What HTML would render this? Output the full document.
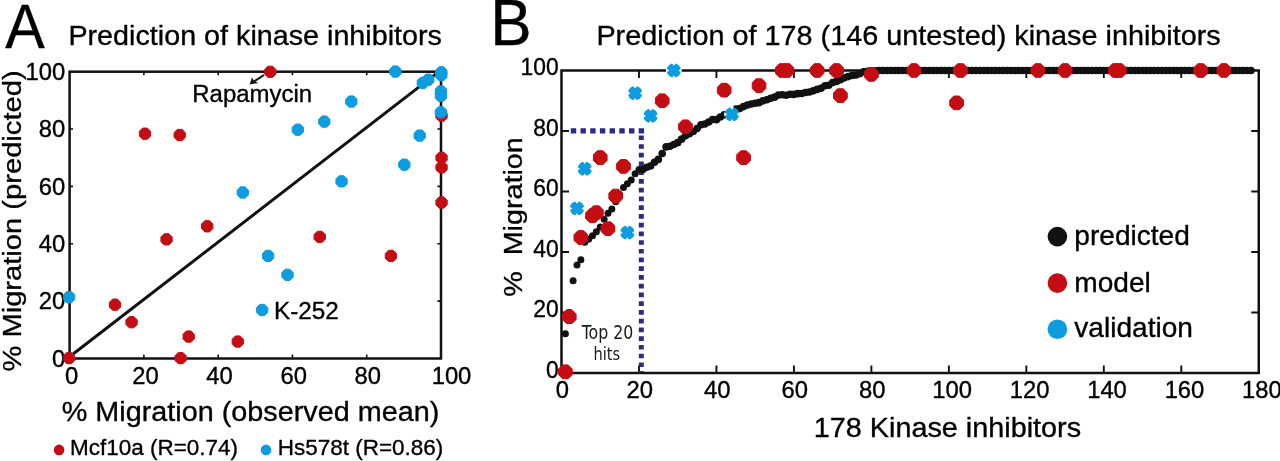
<!DOCTYPE html>
<html lang="en"><head><meta charset="utf-8"><title>Prediction of kinase inhibitors</title>
<style>html,body{margin:0;padding:0;background:#fff;overflow:hidden}svg{display:block}text{font-family:"Liberation Sans",Arial,sans-serif;fill:#000;stroke:#000;stroke-width:.35px;stroke-linejoin:round}.dv{font-family:"DejaVu Sans",Verdana,sans-serif;fill:#1a1a1a;stroke:none}</style></head><body>
<svg width="1280" height="461" viewBox="0 0 1280 461">
<rect width="1280" height="461" fill="#fff"/>
<g id="plotA">
<text transform="translate(5.20 48.00) scale(1.0000 1.0750)" font-size="59.20" text-anchor="start" xml:space="preserve">A</text>
<text transform="translate(68.40 45.00) scale(1.0000 0.9570)" font-size="28.73" text-anchor="start" xml:space="preserve">Prediction of kinase inhibitors</text>
<rect x="69.60" y="71.70" width="371.40" height="286.80" fill="none" stroke="#111" stroke-width="2.50"/>
<path d="M143.88 358.50v-4M143.88 71.70v3.6M69.60 301.14h3.4M441.00 301.14h-3.6" stroke="#111" stroke-width="1.6" fill="none"/>
<path d="M218.16 358.50v-4M218.16 71.70v3.6M69.60 243.78h3.4M441.00 243.78h-3.6" stroke="#111" stroke-width="1.6" fill="none"/>
<path d="M292.44 358.50v-4M292.44 71.70v3.6M69.60 186.42h3.4M441.00 186.42h-3.6" stroke="#111" stroke-width="1.6" fill="none"/>
<path d="M366.72 358.50v-4M366.72 71.70v3.6M69.60 129.06h3.4M441.00 129.06h-3.6" stroke="#111" stroke-width="1.6" fill="none"/>
<text transform="translate(65.20 366.70) scale(1.0000 1.0300)" font-size="23.80" text-anchor="end" xml:space="preserve">0</text>
<text transform="translate(65.20 309.34) scale(1.0000 1.0300)" font-size="23.80" text-anchor="end" xml:space="preserve">20</text>
<text transform="translate(65.20 251.98) scale(1.0000 1.0300)" font-size="23.80" text-anchor="end" xml:space="preserve">40</text>
<text transform="translate(65.20 194.62) scale(1.0000 1.0300)" font-size="23.80" text-anchor="end" xml:space="preserve">60</text>
<text transform="translate(65.20 137.26) scale(1.0000 1.0300)" font-size="23.80" text-anchor="end" xml:space="preserve">80</text>
<text transform="translate(65.20 79.90) scale(1.0000 1.0300)" font-size="23.80" text-anchor="end" xml:space="preserve">100</text>
<text transform="translate(71.60 383.60) scale(1.0000 1.0300)" font-size="23.80" text-anchor="middle" xml:space="preserve">0</text>
<text transform="translate(145.48 383.60) scale(1.0000 1.0300)" font-size="23.80" text-anchor="middle" xml:space="preserve">20</text>
<text transform="translate(219.46 383.60) scale(1.0000 1.0300)" font-size="23.80" text-anchor="middle" xml:space="preserve">40</text>
<text transform="translate(293.74 383.60) scale(1.0000 1.0300)" font-size="23.80" text-anchor="middle" xml:space="preserve">60</text>
<text transform="translate(367.72 383.60) scale(1.0000 1.0300)" font-size="23.80" text-anchor="middle" xml:space="preserve">80</text>
<text transform="translate(451.50 383.60) scale(1.0000 1.0300)" font-size="23.80" text-anchor="middle" xml:space="preserve">100</text>
<text transform="translate(250.50 421.30) scale(1.0000 0.9700)" font-size="28.80" text-anchor="middle" xml:space="preserve">% Migration (observed mean)</text>
<text transform="translate(21.20 221.00) rotate(-90) scale(1.0000 0.9000)" font-size="29.15" text-anchor="middle" xml:space="preserve">% Migration (predicted)</text>
<line x1="68.9" y1="357.3" x2="440.2" y2="70.6" stroke="#111" stroke-width="3.0"/>
<polygon points="275.94,74.13 272.63,77.44 267.97,77.44 264.66,74.13 264.66,69.47 267.97,66.16 272.63,66.16 275.94,69.47" fill="#c40d13" stroke="#c40d13" stroke-width="1" stroke-linejoin="round"/>
<polygon points="150.64,136.03 147.33,139.34 142.67,139.34 139.36,136.03 139.36,131.37 142.67,128.06 147.33,128.06 150.64,131.37" fill="#c40d13" stroke="#c40d13" stroke-width="1" stroke-linejoin="round"/>
<polygon points="185.34,137.33 182.03,140.64 177.37,140.64 174.06,137.33 174.06,132.67 177.37,129.36 182.03,129.36 185.34,132.67" fill="#c40d13" stroke="#c40d13" stroke-width="1" stroke-linejoin="round"/>
<polygon points="447.19,117.93 443.88,121.24 439.22,121.24 435.91,117.93 435.91,113.27 439.22,109.96 443.88,109.96 447.19,113.27" fill="#c40d13" stroke="#c40d13" stroke-width="1" stroke-linejoin="round"/>
<polygon points="447.19,160.13 443.88,163.44 439.22,163.44 435.91,160.13 435.91,155.47 439.22,152.16 443.88,152.16 447.19,155.47" fill="#c40d13" stroke="#c40d13" stroke-width="1" stroke-linejoin="round"/>
<polygon points="447.19,169.63 443.88,172.94 439.22,172.94 435.91,169.63 435.91,164.97 439.22,161.66 443.88,161.66 447.19,164.97" fill="#c40d13" stroke="#c40d13" stroke-width="1" stroke-linejoin="round"/>
<polygon points="447.19,204.83 443.88,208.14 439.22,208.14 435.91,204.83 435.91,200.17 439.22,196.86 443.88,196.86 447.19,200.17" fill="#c40d13" stroke="#c40d13" stroke-width="1" stroke-linejoin="round"/>
<polygon points="172.19,241.63 168.88,244.94 164.22,244.94 160.91,241.63 160.91,236.97 164.22,233.66 168.88,233.66 172.19,236.97" fill="#c40d13" stroke="#c40d13" stroke-width="1" stroke-linejoin="round"/>
<polygon points="212.84,228.63 209.53,231.94 204.87,231.94 201.56,228.63 201.56,223.97 204.87,220.66 209.53,220.66 212.84,223.97" fill="#c40d13" stroke="#c40d13" stroke-width="1" stroke-linejoin="round"/>
<polygon points="325.34,239.23 322.03,242.54 317.37,242.54 314.06,239.23 314.06,234.57 317.37,231.26 322.03,231.26 325.34,234.57" fill="#c40d13" stroke="#c40d13" stroke-width="1" stroke-linejoin="round"/>
<polygon points="396.54,258.23 393.23,261.54 388.57,261.54 385.26,258.23 385.26,253.57 388.57,250.26 393.23,250.26 396.54,253.57" fill="#c40d13" stroke="#c40d13" stroke-width="1" stroke-linejoin="round"/>
<polygon points="120.64,307.03 117.33,310.34 112.67,310.34 109.36,307.03 109.36,302.37 112.67,299.06 117.33,299.06 120.64,302.37" fill="#c40d13" stroke="#c40d13" stroke-width="1" stroke-linejoin="round"/>
<polygon points="137.19,324.53 133.88,327.84 129.22,327.84 125.91,324.53 125.91,319.87 129.22,316.56 133.88,316.56 137.19,319.87" fill="#c40d13" stroke="#c40d13" stroke-width="1" stroke-linejoin="round"/>
<polygon points="194.34,338.88 191.03,342.19 186.37,342.19 183.06,338.88 183.06,334.22 186.37,330.91 191.03,330.91 194.34,334.22" fill="#c40d13" stroke="#c40d13" stroke-width="1" stroke-linejoin="round"/>
<polygon points="243.44,343.88 240.13,347.19 235.47,347.19 232.16,343.88 232.16,339.22 235.47,335.91 240.13,335.91 243.44,339.22" fill="#c40d13" stroke="#c40d13" stroke-width="1" stroke-linejoin="round"/>
<polygon points="186.24,360.43 182.93,363.74 178.27,363.74 174.96,360.43 174.96,355.77 178.27,352.46 182.93,352.46 186.24,355.77" fill="#c40d13" stroke="#c40d13" stroke-width="1" stroke-linejoin="round"/>
<polygon points="74.69,360.43 71.38,363.74 66.72,363.74 63.41,360.43 63.41,355.77 66.72,352.46 71.38,352.46 74.69,355.77" fill="#c40d13" stroke="#c40d13" stroke-width="1" stroke-linejoin="round"/>
<polygon points="400.94,73.88 397.63,77.19 392.97,77.19 389.66,73.88 389.66,69.22 392.97,65.91 397.63,65.91 400.94,69.22" fill="#0e9ce0" stroke="#0e9ce0" stroke-width="1" stroke-linejoin="round"/>
<polygon points="446.94,74.63 443.63,77.94 438.97,77.94 435.66,74.63 435.66,69.97 438.97,66.66 443.63,66.66 446.94,69.97" fill="#0e9ce0" stroke="#0e9ce0" stroke-width="1" stroke-linejoin="round"/>
<polygon points="446.94,77.43 443.63,80.74 438.97,80.74 435.66,77.43 435.66,72.77 438.97,69.46 443.63,69.46 446.94,72.77" fill="#0e9ce0" stroke="#0e9ce0" stroke-width="1" stroke-linejoin="round"/>
<polygon points="428.44,85.13 425.13,88.44 420.47,88.44 417.16,85.13 417.16,80.47 420.47,77.16 425.13,77.16 428.44,80.47" fill="#0e9ce0" stroke="#0e9ce0" stroke-width="1" stroke-linejoin="round"/>
<polygon points="433.94,82.03 430.63,85.34 425.97,85.34 422.66,82.03 422.66,77.37 425.97,74.06 430.63,74.06 433.94,77.37" fill="#0e9ce0" stroke="#0e9ce0" stroke-width="1" stroke-linejoin="round"/>
<polygon points="446.54,93.63 443.23,96.94 438.57,96.94 435.26,93.63 435.26,88.97 438.57,85.66 443.23,85.66 446.54,88.97" fill="#0e9ce0" stroke="#0e9ce0" stroke-width="1" stroke-linejoin="round"/>
<polygon points="446.54,98.23 443.23,101.54 438.57,101.54 435.26,98.23 435.26,93.57 438.57,90.26 443.23,90.26 446.54,93.57" fill="#0e9ce0" stroke="#0e9ce0" stroke-width="1" stroke-linejoin="round"/>
<polygon points="446.54,114.63 443.23,117.94 438.57,117.94 435.26,114.63 435.26,109.97 438.57,106.66 443.23,106.66 446.54,109.97" fill="#0e9ce0" stroke="#0e9ce0" stroke-width="1" stroke-linejoin="round"/>
<polygon points="356.94,103.88 353.63,107.19 348.97,107.19 345.66,103.88 345.66,99.22 348.97,95.91 353.63,95.91 356.94,99.22" fill="#0e9ce0" stroke="#0e9ce0" stroke-width="1" stroke-linejoin="round"/>
<polygon points="329.94,123.88 326.63,127.19 321.97,127.19 318.66,123.88 318.66,119.22 321.97,115.91 326.63,115.91 329.94,119.22" fill="#0e9ce0" stroke="#0e9ce0" stroke-width="1" stroke-linejoin="round"/>
<polygon points="303.44,132.03 300.13,135.34 295.47,135.34 292.16,132.03 292.16,127.37 295.47,124.06 300.13,124.06 303.44,127.37" fill="#0e9ce0" stroke="#0e9ce0" stroke-width="1" stroke-linejoin="round"/>
<polygon points="425.34,137.93 422.03,141.24 417.37,141.24 414.06,137.93 414.06,133.27 417.37,129.96 422.03,129.96 425.34,133.27" fill="#0e9ce0" stroke="#0e9ce0" stroke-width="1" stroke-linejoin="round"/>
<polygon points="409.94,167.03 406.63,170.34 401.97,170.34 398.66,167.03 398.66,162.37 401.97,159.06 406.63,159.06 409.94,162.37" fill="#0e9ce0" stroke="#0e9ce0" stroke-width="1" stroke-linejoin="round"/>
<polygon points="248.44,194.83 245.13,198.14 240.47,198.14 237.16,194.83 237.16,190.17 240.47,186.86 245.13,186.86 248.44,190.17" fill="#0e9ce0" stroke="#0e9ce0" stroke-width="1" stroke-linejoin="round"/>
<polygon points="347.19,183.63 343.88,186.94 339.22,186.94 335.91,183.63 335.91,178.97 339.22,175.66 343.88,175.66 347.19,178.97" fill="#0e9ce0" stroke="#0e9ce0" stroke-width="1" stroke-linejoin="round"/>
<polygon points="273.74,258.23 270.43,261.54 265.77,261.54 262.46,258.23 262.46,253.57 265.77,250.26 270.43,250.26 273.74,253.57" fill="#0e9ce0" stroke="#0e9ce0" stroke-width="1" stroke-linejoin="round"/>
<polygon points="293.14,277.13 289.83,280.44 285.17,280.44 281.86,277.13 281.86,272.47 285.17,269.16 289.83,269.16 293.14,272.47" fill="#0e9ce0" stroke="#0e9ce0" stroke-width="1" stroke-linejoin="round"/>
<polygon points="74.69,299.53 71.38,302.84 66.72,302.84 63.41,299.53 63.41,294.87 66.72,291.56 71.38,291.56 74.69,294.87" fill="#0e9ce0" stroke="#0e9ce0" stroke-width="1" stroke-linejoin="round"/>
<polygon points="267.84,312.33 264.53,315.64 259.87,315.64 256.56,312.33 256.56,307.67 259.87,304.36 264.53,304.36 267.84,307.67" fill="#0e9ce0" stroke="#0e9ce0" stroke-width="1" stroke-linejoin="round"/>
<path d="M264 75 L253 82.2" stroke="#111" stroke-width="2" fill="none"/>
<polygon points="249.6,84.5 252.0,77.6 254.2,81.3 258.6,82.9" fill="#111"/>
<text transform="translate(192.30 101.50) scale(1.0000 0.9600)" font-size="23.97" text-anchor="start" xml:space="preserve">Rapamycin</text>
<text transform="translate(274.00 318.90) scale(1.0000 0.9500)" font-size="24.30" text-anchor="start" xml:space="preserve">K-252</text>
<circle cx="59.10" cy="449.90" r="5.30" fill="#c40d13"/>
<text transform="translate(70.00 454.80) scale(1.0000 0.9550)" font-size="22.50" text-anchor="start" xml:space="preserve">Mcf10a (R=0.74)</text>
<circle cx="266.00" cy="449.90" r="5.30" fill="#0e9ce0"/>
<text transform="translate(277.70 454.80) scale(1.0000 0.9550)" font-size="22.50" text-anchor="start" xml:space="preserve">Hs578t (R=0.86)</text>
</g>
<g id="plotB">
<text transform="translate(490.30 44.80) scale(1.0000 1.0400)" font-size="62.00" text-anchor="start" xml:space="preserve">B</text>
<text transform="translate(596.40 44.50) scale(1.0000 0.9570)" font-size="28.82" text-anchor="start" xml:space="preserve">Prediction of 178 (146 untested) kinase inhibitors</text>
<path d="M561.50 70.50H1258.75V373.00H561.50Z" fill="none" stroke="#111" stroke-width="2.50"/>
<path d="M638.97 373.00v-7.5M638.97 70.50v7.5" stroke="#111" stroke-width="1.9" fill="none"/>
<path d="M716.44 373.00v-7.5M716.44 70.50v7.5" stroke="#111" stroke-width="1.9" fill="none"/>
<path d="M793.92 373.00v-7.5M793.92 70.50v7.5" stroke="#111" stroke-width="1.9" fill="none"/>
<path d="M871.39 373.00v-7.5M871.39 70.50v7.5" stroke="#111" stroke-width="1.9" fill="none"/>
<path d="M948.86 373.00v-7.5M948.86 70.50v7.5" stroke="#111" stroke-width="1.9" fill="none"/>
<path d="M1026.33 373.00v-7.5M1026.33 70.50v7.5" stroke="#111" stroke-width="1.9" fill="none"/>
<path d="M1103.81 373.00v-7.5M1103.81 70.50v7.5" stroke="#111" stroke-width="1.9" fill="none"/>
<path d="M1181.28 373.00v-7.5M1181.28 70.50v7.5" stroke="#111" stroke-width="1.9" fill="none"/>
<path d="M561.50 312.50h7.5M1258.75 312.50h-7.5" stroke="#111" stroke-width="1.9" fill="none"/>
<path d="M561.50 252.00h7.5M1258.75 252.00h-7.5" stroke="#111" stroke-width="1.9" fill="none"/>
<path d="M561.50 191.50h7.5M1258.75 191.50h-7.5" stroke="#111" stroke-width="1.9" fill="none"/>
<path d="M561.50 131.00h7.5M1258.75 131.00h-7.5" stroke="#111" stroke-width="1.9" fill="none"/>
<text transform="translate(558.60 377.60) scale(1.0000 1.0400)" font-size="22.80" text-anchor="end" xml:space="preserve">0</text>
<text transform="translate(558.60 317.10) scale(1.0000 1.0400)" font-size="22.80" text-anchor="end" xml:space="preserve">20</text>
<text transform="translate(558.60 256.60) scale(1.0000 1.0400)" font-size="22.80" text-anchor="end" xml:space="preserve">40</text>
<text transform="translate(558.60 196.10) scale(1.0000 1.0400)" font-size="22.80" text-anchor="end" xml:space="preserve">60</text>
<text transform="translate(558.60 135.60) scale(1.0000 1.0400)" font-size="22.80" text-anchor="end" xml:space="preserve">80</text>
<text transform="translate(558.60 75.10) scale(1.0000 1.0400)" font-size="22.80" text-anchor="end" xml:space="preserve">100</text>
<text transform="translate(562.30 397.60) scale(1.0000 1.0300)" font-size="23.80" text-anchor="middle" xml:space="preserve">0</text>
<text transform="translate(639.77 397.60) scale(1.0000 1.0300)" font-size="23.80" text-anchor="middle" xml:space="preserve">20</text>
<text transform="translate(717.24 397.60) scale(1.0000 1.0300)" font-size="23.80" text-anchor="middle" xml:space="preserve">40</text>
<text transform="translate(794.72 397.60) scale(1.0000 1.0300)" font-size="23.80" text-anchor="middle" xml:space="preserve">60</text>
<text transform="translate(872.19 397.60) scale(1.0000 1.0300)" font-size="23.80" text-anchor="middle" xml:space="preserve">80</text>
<text transform="translate(952.06 397.60) scale(1.0000 1.0300)" font-size="23.80" text-anchor="middle" xml:space="preserve">100</text>
<text transform="translate(1029.53 397.60) scale(1.0000 1.0300)" font-size="23.80" text-anchor="middle" xml:space="preserve">120</text>
<text transform="translate(1107.01 397.60) scale(1.0000 1.0300)" font-size="23.80" text-anchor="middle" xml:space="preserve">140</text>
<text transform="translate(1184.48 397.60) scale(1.0000 1.0300)" font-size="23.80" text-anchor="middle" xml:space="preserve">160</text>
<text transform="translate(1261.95 397.60) scale(1.0000 1.0300)" font-size="23.80" text-anchor="middle" xml:space="preserve">180</text>
<text transform="translate(947.40 437.00) scale(1.0000 0.9600)" font-size="28.80" text-anchor="middle" xml:space="preserve">178 Kinase inhibitors</text>
<text transform="translate(522.00 217.00) rotate(-90) scale(1.0000 0.9000)" font-size="28.70" text-anchor="middle" xml:space="preserve">%  Migration</text>
<path d="M570.8 130.9H644.2" stroke="#2c2a86" stroke-width="5.1" stroke-dasharray="5.4 4.3" fill="none"/>
<path d="M641.3 135.4V372.50" stroke="#2c2a86" stroke-width="5" stroke-dasharray="4.7 4.03" fill="none"/>
<circle cx="565.37" cy="333.68" r="3.50" fill="#111111"/>
<circle cx="569.25" cy="312.50" r="3.50" fill="#111111"/>
<circle cx="573.12" cy="280.74" r="3.50" fill="#111111"/>
<circle cx="576.99" cy="265.01" r="3.50" fill="#111111"/>
<circle cx="580.87" cy="259.87" r="3.50" fill="#111111"/>
<circle cx="584.74" cy="242.32" r="3.50" fill="#111111"/>
<circle cx="588.62" cy="239.29" r="3.50" fill="#111111"/>
<circle cx="592.49" cy="235.74" r="3.50" fill="#111111"/>
<circle cx="596.36" cy="231.83" r="3.50" fill="#111111"/>
<circle cx="600.24" cy="227.12" r="3.50" fill="#111111"/>
<circle cx="604.11" cy="219.18" r="3.50" fill="#111111"/>
<circle cx="607.98" cy="213.33" r="3.50" fill="#111111"/>
<circle cx="611.86" cy="208.88" r="3.50" fill="#111111"/>
<circle cx="615.73" cy="201.83" r="3.50" fill="#111111"/>
<circle cx="619.60" cy="194.48" r="3.50" fill="#111111"/>
<circle cx="623.48" cy="187.49" r="3.50" fill="#111111"/>
<circle cx="627.35" cy="183.71" r="3.50" fill="#111111"/>
<circle cx="631.23" cy="179.93" r="3.50" fill="#111111"/>
<circle cx="635.10" cy="173.68" r="3.50" fill="#111111"/>
<circle cx="638.97" cy="169.53" r="3.50" fill="#111111"/>
<circle cx="642.85" cy="169.48" r="3.80" fill="#111111"/>
<circle cx="646.72" cy="167.23" r="3.80" fill="#111111"/>
<circle cx="650.59" cy="165.98" r="3.80" fill="#111111"/>
<circle cx="654.47" cy="162.26" r="3.80" fill="#111111"/>
<circle cx="658.34" cy="159.42" r="3.80" fill="#111111"/>
<circle cx="662.21" cy="153.47" r="3.80" fill="#111111"/>
<circle cx="666.09" cy="146.90" r="3.80" fill="#111111"/>
<circle cx="669.96" cy="146.26" r="3.80" fill="#111111"/>
<circle cx="673.83" cy="144.48" r="3.80" fill="#111111"/>
<circle cx="677.71" cy="142.65" r="3.80" fill="#111111"/>
<circle cx="681.58" cy="139.14" r="3.80" fill="#111111"/>
<circle cx="685.46" cy="135.74" r="3.80" fill="#111111"/>
<circle cx="689.33" cy="133.73" r="3.80" fill="#111111"/>
<circle cx="693.20" cy="131.52" r="3.80" fill="#111111"/>
<circle cx="697.08" cy="128.44" r="3.80" fill="#111111"/>
<circle cx="700.95" cy="124.74" r="3.80" fill="#111111"/>
<circle cx="704.82" cy="123.94" r="3.80" fill="#111111"/>
<circle cx="708.70" cy="121.97" r="3.80" fill="#111111"/>
<circle cx="712.57" cy="119.55" r="3.80" fill="#111111"/>
<circle cx="716.44" cy="119.65" r="3.80" fill="#111111"/>
<circle cx="720.32" cy="117.07" r="3.80" fill="#111111"/>
<circle cx="724.19" cy="114.68" r="3.80" fill="#111111"/>
<circle cx="728.07" cy="114.10" r="3.80" fill="#111111"/>
<circle cx="731.94" cy="111.63" r="3.80" fill="#111111"/>
<circle cx="735.81" cy="109.08" r="3.80" fill="#111111"/>
<circle cx="739.69" cy="108.60" r="3.80" fill="#111111"/>
<circle cx="743.56" cy="106.61" r="3.80" fill="#111111"/>
<circle cx="747.43" cy="105.06" r="3.80" fill="#111111"/>
<circle cx="751.31" cy="104.07" r="3.80" fill="#111111"/>
<circle cx="755.18" cy="103.30" r="3.80" fill="#111111"/>
<circle cx="759.05" cy="102.65" r="3.80" fill="#111111"/>
<circle cx="762.93" cy="100.83" r="3.80" fill="#111111"/>
<circle cx="766.80" cy="99.75" r="3.80" fill="#111111"/>
<circle cx="770.67" cy="98.26" r="3.80" fill="#111111"/>
<circle cx="774.55" cy="97.17" r="3.80" fill="#111111"/>
<circle cx="778.42" cy="95.10" r="3.80" fill="#111111"/>
<circle cx="782.30" cy="94.80" r="3.80" fill="#111111"/>
<circle cx="786.17" cy="95.20" r="3.80" fill="#111111"/>
<circle cx="790.04" cy="94.31" r="3.80" fill="#111111"/>
<circle cx="793.92" cy="94.42" r="3.80" fill="#111111"/>
<circle cx="797.79" cy="93.67" r="3.80" fill="#111111"/>
<circle cx="801.66" cy="93.43" r="3.80" fill="#111111"/>
<circle cx="805.54" cy="92.45" r="3.80" fill="#111111"/>
<circle cx="809.41" cy="91.99" r="3.80" fill="#111111"/>
<circle cx="813.28" cy="90.86" r="3.80" fill="#111111"/>
<circle cx="817.16" cy="89.41" r="3.80" fill="#111111"/>
<circle cx="821.03" cy="88.32" r="3.80" fill="#111111"/>
<circle cx="824.91" cy="85.70" r="3.80" fill="#111111"/>
<circle cx="828.78" cy="85.30" r="3.80" fill="#111111"/>
<circle cx="832.65" cy="82.56" r="3.80" fill="#111111"/>
<circle cx="836.53" cy="81.42" r="3.80" fill="#111111"/>
<circle cx="840.40" cy="79.81" r="3.80" fill="#111111"/>
<circle cx="844.27" cy="77.86" r="3.80" fill="#111111"/>
<circle cx="848.15" cy="76.58" r="3.80" fill="#111111"/>
<circle cx="852.02" cy="75.51" r="3.80" fill="#111111"/>
<circle cx="855.89" cy="74.99" r="3.80" fill="#111111"/>
<circle cx="859.77" cy="73.65" r="3.80" fill="#111111"/>
<circle cx="863.64" cy="71.70" r="3.80" fill="#111111"/>
<circle cx="867.52" cy="71.21" r="3.80" fill="#111111"/>
<circle cx="871.39" cy="70.90" r="3.80" fill="#111111"/>
<circle cx="875.26" cy="70.70" r="3.80" fill="#111111"/>
<circle cx="879.14" cy="70.50" r="3.80" fill="#111111"/>
<circle cx="883.01" cy="70.50" r="3.80" fill="#111111"/>
<circle cx="886.88" cy="70.50" r="3.80" fill="#111111"/>
<circle cx="890.76" cy="70.50" r="3.80" fill="#111111"/>
<circle cx="894.63" cy="70.50" r="3.80" fill="#111111"/>
<circle cx="898.50" cy="70.50" r="3.80" fill="#111111"/>
<circle cx="902.38" cy="70.50" r="3.80" fill="#111111"/>
<circle cx="906.25" cy="70.50" r="3.80" fill="#111111"/>
<circle cx="910.12" cy="70.50" r="3.80" fill="#111111"/>
<circle cx="914.00" cy="70.50" r="3.80" fill="#111111"/>
<circle cx="917.87" cy="70.50" r="3.80" fill="#111111"/>
<circle cx="921.75" cy="70.50" r="3.80" fill="#111111"/>
<circle cx="925.62" cy="70.50" r="3.80" fill="#111111"/>
<circle cx="929.49" cy="70.50" r="3.80" fill="#111111"/>
<circle cx="933.37" cy="70.50" r="3.80" fill="#111111"/>
<circle cx="937.24" cy="70.50" r="3.80" fill="#111111"/>
<circle cx="941.11" cy="70.50" r="3.80" fill="#111111"/>
<circle cx="944.99" cy="70.50" r="3.80" fill="#111111"/>
<circle cx="948.86" cy="70.50" r="3.80" fill="#111111"/>
<circle cx="952.73" cy="70.50" r="3.80" fill="#111111"/>
<circle cx="956.61" cy="70.50" r="3.80" fill="#111111"/>
<circle cx="960.48" cy="70.50" r="3.80" fill="#111111"/>
<circle cx="964.36" cy="70.50" r="3.80" fill="#111111"/>
<circle cx="968.23" cy="70.50" r="3.80" fill="#111111"/>
<circle cx="972.10" cy="70.50" r="3.80" fill="#111111"/>
<circle cx="975.98" cy="70.50" r="3.80" fill="#111111"/>
<circle cx="979.85" cy="70.50" r="3.80" fill="#111111"/>
<circle cx="983.72" cy="70.50" r="3.80" fill="#111111"/>
<circle cx="987.60" cy="70.50" r="3.80" fill="#111111"/>
<circle cx="991.47" cy="70.50" r="3.80" fill="#111111"/>
<circle cx="995.34" cy="70.50" r="3.80" fill="#111111"/>
<circle cx="999.22" cy="70.50" r="3.80" fill="#111111"/>
<circle cx="1003.09" cy="70.50" r="3.80" fill="#111111"/>
<circle cx="1006.97" cy="70.50" r="3.80" fill="#111111"/>
<circle cx="1010.84" cy="70.50" r="3.80" fill="#111111"/>
<circle cx="1014.71" cy="70.50" r="3.80" fill="#111111"/>
<circle cx="1018.59" cy="70.50" r="3.80" fill="#111111"/>
<circle cx="1022.46" cy="70.50" r="3.80" fill="#111111"/>
<circle cx="1026.33" cy="70.50" r="3.80" fill="#111111"/>
<circle cx="1030.21" cy="70.50" r="3.80" fill="#111111"/>
<circle cx="1034.08" cy="70.50" r="3.80" fill="#111111"/>
<circle cx="1037.95" cy="70.50" r="3.80" fill="#111111"/>
<circle cx="1041.83" cy="70.50" r="3.80" fill="#111111"/>
<circle cx="1045.70" cy="70.50" r="3.80" fill="#111111"/>
<circle cx="1049.58" cy="70.50" r="3.80" fill="#111111"/>
<circle cx="1053.45" cy="70.50" r="3.80" fill="#111111"/>
<circle cx="1057.32" cy="70.50" r="3.80" fill="#111111"/>
<circle cx="1061.20" cy="70.50" r="3.80" fill="#111111"/>
<circle cx="1065.07" cy="70.50" r="3.80" fill="#111111"/>
<circle cx="1068.94" cy="70.50" r="3.80" fill="#111111"/>
<circle cx="1072.82" cy="70.50" r="3.80" fill="#111111"/>
<circle cx="1076.69" cy="70.50" r="3.80" fill="#111111"/>
<circle cx="1080.56" cy="70.50" r="3.80" fill="#111111"/>
<circle cx="1084.44" cy="70.50" r="3.80" fill="#111111"/>
<circle cx="1088.31" cy="70.50" r="3.80" fill="#111111"/>
<circle cx="1092.18" cy="70.50" r="3.80" fill="#111111"/>
<circle cx="1096.06" cy="70.50" r="3.80" fill="#111111"/>
<circle cx="1099.93" cy="70.50" r="3.80" fill="#111111"/>
<circle cx="1103.81" cy="70.50" r="3.80" fill="#111111"/>
<circle cx="1107.68" cy="70.50" r="3.80" fill="#111111"/>
<circle cx="1111.55" cy="70.50" r="3.80" fill="#111111"/>
<circle cx="1115.43" cy="70.50" r="3.80" fill="#111111"/>
<circle cx="1119.30" cy="70.50" r="3.80" fill="#111111"/>
<circle cx="1123.17" cy="70.50" r="3.80" fill="#111111"/>
<circle cx="1127.05" cy="70.50" r="3.80" fill="#111111"/>
<circle cx="1130.92" cy="70.50" r="3.80" fill="#111111"/>
<circle cx="1134.79" cy="70.50" r="3.80" fill="#111111"/>
<circle cx="1138.67" cy="70.50" r="3.80" fill="#111111"/>
<circle cx="1142.54" cy="70.50" r="3.80" fill="#111111"/>
<circle cx="1146.42" cy="70.50" r="3.80" fill="#111111"/>
<circle cx="1150.29" cy="70.50" r="3.80" fill="#111111"/>
<circle cx="1154.16" cy="70.50" r="3.80" fill="#111111"/>
<circle cx="1158.04" cy="70.50" r="3.80" fill="#111111"/>
<circle cx="1161.91" cy="70.50" r="3.80" fill="#111111"/>
<circle cx="1165.78" cy="70.50" r="3.80" fill="#111111"/>
<circle cx="1169.66" cy="70.50" r="3.80" fill="#111111"/>
<circle cx="1173.53" cy="70.50" r="3.80" fill="#111111"/>
<circle cx="1177.40" cy="70.50" r="3.80" fill="#111111"/>
<circle cx="1181.28" cy="70.50" r="3.80" fill="#111111"/>
<circle cx="1185.15" cy="70.50" r="3.80" fill="#111111"/>
<circle cx="1189.03" cy="70.50" r="3.80" fill="#111111"/>
<circle cx="1192.90" cy="70.50" r="3.80" fill="#111111"/>
<circle cx="1196.77" cy="70.50" r="3.80" fill="#111111"/>
<circle cx="1200.65" cy="70.50" r="3.80" fill="#111111"/>
<circle cx="1204.52" cy="70.50" r="3.80" fill="#111111"/>
<circle cx="1208.39" cy="70.50" r="3.80" fill="#111111"/>
<circle cx="1212.27" cy="70.50" r="3.80" fill="#111111"/>
<circle cx="1216.14" cy="70.50" r="3.80" fill="#111111"/>
<circle cx="1220.01" cy="70.50" r="3.80" fill="#111111"/>
<circle cx="1223.89" cy="70.50" r="3.80" fill="#111111"/>
<circle cx="1227.76" cy="70.50" r="3.80" fill="#111111"/>
<circle cx="1231.63" cy="70.50" r="3.80" fill="#111111"/>
<circle cx="1235.51" cy="70.50" r="3.80" fill="#111111"/>
<circle cx="1239.38" cy="70.50" r="3.80" fill="#111111"/>
<circle cx="1243.26" cy="70.50" r="3.80" fill="#111111"/>
<circle cx="1247.13" cy="70.50" r="3.80" fill="#111111"/>
<circle cx="1251.00" cy="70.50" r="3.80" fill="#111111"/>
<polygon points="789.13,73.33 785.13,77.34 779.46,77.34 775.46,73.33 775.46,67.67 779.46,63.66 785.13,63.66 789.13,67.67" fill="#c40d13" stroke="#c40d13" stroke-width="1" stroke-linejoin="round"/>
<polygon points="793.78,73.33 789.78,77.34 784.11,77.34 780.11,73.33 780.11,67.67 784.11,63.66 789.78,63.66 793.78,67.67" fill="#c40d13" stroke="#c40d13" stroke-width="1" stroke-linejoin="round"/>
<polygon points="824.00,73.33 819.99,77.34 814.33,77.34 810.32,73.33 810.32,67.67 814.33,63.66 819.99,63.66 824.00,67.67" fill="#c40d13" stroke="#c40d13" stroke-width="1" stroke-linejoin="round"/>
<polygon points="843.36,73.33 839.36,77.34 833.69,77.34 829.69,73.33 829.69,67.67 833.69,63.66 839.36,63.66 843.36,67.67" fill="#c40d13" stroke="#c40d13" stroke-width="1" stroke-linejoin="round"/>
<polygon points="878.23,77.26 874.22,81.27 868.56,81.27 864.55,77.26 864.55,71.60 868.56,67.60 874.22,67.60 878.23,71.60" fill="#c40d13" stroke="#c40d13" stroke-width="1" stroke-linejoin="round"/>
<polygon points="920.84,73.33 916.83,77.34 911.17,77.34 907.16,73.33 907.16,67.67 911.17,63.66 916.83,63.66 920.84,67.67" fill="#c40d13" stroke="#c40d13" stroke-width="1" stroke-linejoin="round"/>
<polygon points="847.24,98.44 843.23,102.44 837.57,102.44 833.56,98.44 833.56,92.78 837.57,88.77 843.23,88.77 847.24,92.78" fill="#c40d13" stroke="#c40d13" stroke-width="1" stroke-linejoin="round"/>
<polygon points="765.89,88.46 761.89,92.46 756.22,92.46 752.22,88.46 752.22,82.79 756.22,78.79 761.89,78.79 765.89,82.79" fill="#c40d13" stroke="#c40d13" stroke-width="1" stroke-linejoin="round"/>
<polygon points="731.03,92.99 727.02,97.00 721.36,97.00 717.35,92.99 717.35,87.33 721.36,83.33 727.02,83.33 731.03,87.33" fill="#c40d13" stroke="#c40d13" stroke-width="1" stroke-linejoin="round"/>
<polygon points="669.05,103.58 665.05,107.59 659.38,107.59 655.38,103.58 655.38,97.92 659.38,93.91 665.05,93.91 669.05,97.92" fill="#c40d13" stroke="#c40d13" stroke-width="1" stroke-linejoin="round"/>
<polygon points="692.29,129.60 688.29,133.60 682.62,133.60 678.62,129.60 678.62,123.93 682.62,119.93 688.29,119.93 692.29,123.93" fill="#c40d13" stroke="#c40d13" stroke-width="1" stroke-linejoin="round"/>
<polygon points="750.40,160.45 746.39,164.46 740.73,164.46 736.72,160.45 736.72,154.79 740.73,150.78 746.39,150.78 750.40,154.79" fill="#c40d13" stroke="#c40d13" stroke-width="1" stroke-linejoin="round"/>
<polygon points="607.07,160.45 603.07,164.46 597.40,164.46 593.40,160.45 593.40,154.79 597.40,150.78 603.07,150.78 607.07,154.79" fill="#c40d13" stroke="#c40d13" stroke-width="1" stroke-linejoin="round"/>
<polygon points="630.31,169.22 626.31,173.23 620.65,173.23 616.64,169.22 616.64,163.56 620.65,159.56 626.31,159.56 630.31,163.56" fill="#c40d13" stroke="#c40d13" stroke-width="1" stroke-linejoin="round"/>
<polygon points="622.57,198.87 618.56,202.87 612.90,202.87 608.89,198.87 608.89,193.21 612.90,189.20 618.56,189.20 622.57,193.21" fill="#c40d13" stroke="#c40d13" stroke-width="1" stroke-linejoin="round"/>
<polygon points="599.33,218.53 595.32,222.54 589.66,222.54 585.65,218.53 585.65,212.87 589.66,208.86 595.32,208.86 599.33,212.87" fill="#c40d13" stroke="#c40d13" stroke-width="1" stroke-linejoin="round"/>
<polygon points="603.20,215.51 599.19,219.51 593.53,219.51 589.53,215.51 589.53,209.84 593.53,205.84 599.19,205.84 603.20,209.84" fill="#c40d13" stroke="#c40d13" stroke-width="1" stroke-linejoin="round"/>
<polygon points="614.82,231.54 610.82,235.54 605.15,235.54 601.15,231.54 601.15,225.88 605.15,221.87 610.82,221.87 614.82,225.88" fill="#c40d13" stroke="#c40d13" stroke-width="1" stroke-linejoin="round"/>
<polygon points="587.70,240.31 583.70,244.32 578.04,244.32 574.03,240.31 574.03,234.65 578.04,230.64 583.70,230.64 587.70,234.65" fill="#c40d13" stroke="#c40d13" stroke-width="1" stroke-linejoin="round"/>
<polygon points="576.08,319.57 572.08,323.57 566.42,323.57 562.41,319.57 562.41,313.90 566.42,309.90 572.08,309.90 576.08,313.90" fill="#c40d13" stroke="#c40d13" stroke-width="1" stroke-linejoin="round"/>
<polygon points="572.21,374.62 568.21,378.63 562.54,378.63 558.54,374.62 558.54,368.96 562.54,364.95 568.21,364.95 572.21,368.96" fill="#c40d13" stroke="#c40d13" stroke-width="1" stroke-linejoin="round"/>
<polygon points="967.32,73.33 963.31,77.34 957.65,77.34 953.65,73.33 953.65,67.67 957.65,63.66 963.31,63.66 967.32,67.67" fill="#c40d13" stroke="#c40d13" stroke-width="1" stroke-linejoin="round"/>
<polygon points="1044.79,73.33 1040.79,77.34 1035.12,77.34 1031.12,73.33 1031.12,67.67 1035.12,63.66 1040.79,63.66 1044.79,67.67" fill="#c40d13" stroke="#c40d13" stroke-width="1" stroke-linejoin="round"/>
<polygon points="1071.91,73.33 1067.90,77.34 1062.24,77.34 1058.23,73.33 1058.23,67.67 1062.24,63.66 1067.90,63.66 1071.91,67.67" fill="#c40d13" stroke="#c40d13" stroke-width="1" stroke-linejoin="round"/>
<polygon points="1122.26,73.33 1118.26,77.34 1112.59,77.34 1108.59,73.33 1108.59,67.67 1112.59,63.66 1118.26,63.66 1122.26,67.67" fill="#c40d13" stroke="#c40d13" stroke-width="1" stroke-linejoin="round"/>
<polygon points="1126.14,73.33 1122.13,77.34 1116.47,77.34 1112.46,73.33 1112.46,67.67 1116.47,63.66 1122.13,63.66 1126.14,67.67" fill="#c40d13" stroke="#c40d13" stroke-width="1" stroke-linejoin="round"/>
<polygon points="1207.48,73.33 1203.48,77.34 1197.81,77.34 1193.81,73.33 1193.81,67.67 1197.81,63.66 1203.48,63.66 1207.48,67.67" fill="#c40d13" stroke="#c40d13" stroke-width="1" stroke-linejoin="round"/>
<polygon points="1230.72,73.33 1226.72,77.34 1221.06,77.34 1217.05,73.33 1217.05,67.67 1221.06,63.66 1226.72,63.66 1230.72,67.67" fill="#c40d13" stroke="#c40d13" stroke-width="1" stroke-linejoin="round"/>
<polygon points="963.45,105.70 959.44,109.70 953.78,109.70 949.77,105.70 949.77,100.04 953.78,96.03 959.44,96.03 963.45,100.04" fill="#c40d13" stroke="#c40d13" stroke-width="1" stroke-linejoin="round"/>
<g transform="translate(673.83 70.50)"><circle r="7.20" fill="#0e9ce0"/><polygon transform="rotate(0)" points="7.80,-2.23 4.70,0 7.80,2.23" fill="#fff"/><polygon transform="rotate(90)" points="7.80,-2.23 4.70,0 7.80,2.23" fill="#fff"/><polygon transform="rotate(180)" points="7.80,-2.23 4.70,0 7.80,2.23" fill="#fff"/><polygon transform="rotate(270)" points="7.80,-2.23 4.70,0 7.80,2.23" fill="#fff"/></g>
<g transform="translate(635.10 93.19)"><circle r="7.20" fill="#0e9ce0"/><polygon transform="rotate(0)" points="7.80,-2.23 4.70,0 7.80,2.23" fill="#fff"/><polygon transform="rotate(90)" points="7.80,-2.23 4.70,0 7.80,2.23" fill="#fff"/><polygon transform="rotate(180)" points="7.80,-2.23 4.70,0 7.80,2.23" fill="#fff"/><polygon transform="rotate(270)" points="7.80,-2.23 4.70,0 7.80,2.23" fill="#fff"/></g>
<g transform="translate(650.59 115.88)"><circle r="7.20" fill="#0e9ce0"/><polygon transform="rotate(0)" points="7.80,-2.23 4.70,0 7.80,2.23" fill="#fff"/><polygon transform="rotate(90)" points="7.80,-2.23 4.70,0 7.80,2.23" fill="#fff"/><polygon transform="rotate(180)" points="7.80,-2.23 4.70,0 7.80,2.23" fill="#fff"/><polygon transform="rotate(270)" points="7.80,-2.23 4.70,0 7.80,2.23" fill="#fff"/></g>
<g transform="translate(731.94 114.36)"><circle r="7.20" fill="#0e9ce0"/><polygon transform="rotate(0)" points="7.80,-2.23 4.70,0 7.80,2.23" fill="#fff"/><polygon transform="rotate(90)" points="7.80,-2.23 4.70,0 7.80,2.23" fill="#fff"/><polygon transform="rotate(180)" points="7.80,-2.23 4.70,0 7.80,2.23" fill="#fff"/><polygon transform="rotate(270)" points="7.80,-2.23 4.70,0 7.80,2.23" fill="#fff"/></g>
<g transform="translate(584.74 168.81)"><circle r="7.20" fill="#0e9ce0"/><polygon transform="rotate(0)" points="7.80,-2.23 4.70,0 7.80,2.23" fill="#fff"/><polygon transform="rotate(90)" points="7.80,-2.23 4.70,0 7.80,2.23" fill="#fff"/><polygon transform="rotate(180)" points="7.80,-2.23 4.70,0 7.80,2.23" fill="#fff"/><polygon transform="rotate(270)" points="7.80,-2.23 4.70,0 7.80,2.23" fill="#fff"/></g>
<g transform="translate(576.99 208.44)"><circle r="7.20" fill="#0e9ce0"/><polygon transform="rotate(0)" points="7.80,-2.23 4.70,0 7.80,2.23" fill="#fff"/><polygon transform="rotate(90)" points="7.80,-2.23 4.70,0 7.80,2.23" fill="#fff"/><polygon transform="rotate(180)" points="7.80,-2.23 4.70,0 7.80,2.23" fill="#fff"/><polygon transform="rotate(270)" points="7.80,-2.23 4.70,0 7.80,2.23" fill="#fff"/></g>
<g transform="translate(627.35 232.64)"><circle r="7.20" fill="#0e9ce0"/><polygon transform="rotate(0)" points="7.80,-2.23 4.70,0 7.80,2.23" fill="#fff"/><polygon transform="rotate(90)" points="7.80,-2.23 4.70,0 7.80,2.23" fill="#fff"/><polygon transform="rotate(180)" points="7.80,-2.23 4.70,0 7.80,2.23" fill="#fff"/><polygon transform="rotate(270)" points="7.80,-2.23 4.70,0 7.80,2.23" fill="#fff"/></g>
<text class="dv" transform="translate(607.50 338.90) scale(1.0000 1.2000)" font-size="15.80" text-anchor="middle" xml:space="preserve">Top 20</text>
<text class="dv" transform="translate(606.80 359.70) scale(1.0000 1.2000)" font-size="14.60" text-anchor="middle" xml:space="preserve">hits</text>
<circle cx="1057.40" cy="236.60" r="9.80" fill="#111111"/>
<circle cx="1057.40" cy="283.10" r="9.80" fill="#c40d13"/>
<circle cx="1057.40" cy="329.30" r="9.80" fill="#0e9ce0"/>
<text transform="translate(1074.30 244.70)" font-size="28.10" text-anchor="start" xml:space="preserve">predicted</text>
<text transform="translate(1074.30 292.00)" font-size="28.10" text-anchor="start" xml:space="preserve">model</text>
<text transform="translate(1074.30 337.40)" font-size="28.10" text-anchor="start" xml:space="preserve">validation</text>
</g>
</svg></body></html>
